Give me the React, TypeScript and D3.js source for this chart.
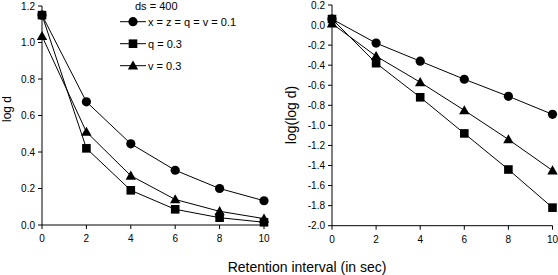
import React from "react";
import * as d3 from "d3";

const times = [0, 2, 4, 6, 8, 10];
const xTicks = [0, 2, 4, 6, 8, 10];

const leftCircle = [1.15, 0.675, 0.445, 0.3, 0.2, 0.133];
const leftSquare = [1.15, 0.42, 0.19, 0.086, 0.04, 0.015];
const leftTriangle = [1.035, 0.51, 0.27, 0.14, 0.075, 0.035];
const leftYTicks = [0, 0.2, 0.4, 0.6, 0.8, 1.0, 1.2];

const rightCircle = [0.06, -0.18, -0.36, -0.54, -0.71, -0.89];
const rightSquare = [0.06, -0.38, -0.72, -1.08, -1.44, -1.82];
const rightTriangle = [0.015, -0.31, -0.57, -0.85, -1.14, -1.45];
const rightYTicks = [0.2, 0, -0.2, -0.4, -0.6, -0.8, -1.0, -1.2, -1.4, -1.6, -1.8, -2.0];

const legendTitle = "ds = 400";
const legendLabels = ["x = z = q = v = 0.1", "q = 0.3", "v = 0.3"];
const markerTypes = ["circle", "square", "triangle"];

const FONT = "Arial, 'Liberation Sans', Helvetica, sans-serif";

function Marker({ type, x, y }: { type: string; x: number; y: number }) {
  if (type === "circle") return <circle cx={x} cy={y} r={4.6} fill="#000" />;
  if (type === "square") return <rect x={x - 4.3} y={y - 4.3} width={8.6} height={8.6} fill="#000" />;
  const s = 5.2;
  return <path d={`M${x},${y - s}L${x + s},${y + s * 0.75}L${x - s},${y + s * 0.75}Z`} fill="#000" />;
}

function Panel({
  x0, x1, y0, y1, domain, yTicks, series, fmt,
}: {
  x0: number; x1: number; y0: number; y1: number; domain: [number, number]; yTicks: number[];
  series: number[][]; fmt: (v: number) => string;
}) {
  const x = d3.scaleLinear().domain([0, 10]).range([x0, x1]);
  const y = d3.scaleLinear().domain(domain).range([y1, y0]);
  const line = d3.line<number>().x((_, i) => x(times[i])).y((v) => y(v));
  return (
    <g>
      <line x1={x0} x2={x0} y1={y(domain[1])} y2={y(domain[0])} stroke="#000" strokeWidth={1} />
      <line x1={x0} x2={x1} y1={y(domain[0])} y2={y(domain[0])} stroke="#000" strokeWidth={1} />
      {yTicks.map((t) => (
        <g key={t}>
          <line x1={x0 - 4} x2={x0} y1={y(t)} y2={y(t)} stroke="#000" />
          <text x={x0 - 7} y={y(t)} dy="0.35em" textAnchor="end" fontSize={10} fontFamily={FONT} fill="#000">
            {fmt(t)}
          </text>
        </g>
      ))}
      {xTicks.map((t) => (
        <g key={t}>
          <line x1={x(t)} x2={x(t)} y1={y(domain[0])} y2={y(domain[0]) + 4} stroke="#000" />
          <text x={x(t)} y={y(domain[0]) + 17} textAnchor="middle" fontSize={10} fontFamily={FONT} fill="#000">
            {t}
          </text>
        </g>
      ))}
      {series.map((s, si) => (
        <g key={si}>
          <path d={line(s) || ""} fill="none" stroke="#000" strokeWidth={1} />
          {s.map((v, i) => (
            <Marker key={i} type={markerTypes[si]} x={x(times[i])} y={y(v)} />
          ))}
        </g>
      ))}
    </g>
  );
}

export default function App() {
  const fmt = (v: number) => (Math.abs(v) < 1e-9 ? "0.0" : v.toFixed(1));
  return (
    <svg width={558} height={275} style={{ position: "absolute", left: 0, top: 0, background: "#fff" }}>
      <rect width={558} height={275} fill="#fff" />
      <Panel x0={42} x1={264} y0={6} y1={225} domain={[0, 1.2]} yTicks={leftYTicks}
        series={[leftCircle, leftSquare, leftTriangle]} fmt={fmt} />
      <Panel x0={332} x1={552.5} y0={5} y1={225.7} domain={[-2.0, 0.2]} yTicks={rightYTicks}
        series={[rightCircle, rightSquare, rightTriangle]} fmt={fmt} />
      <text transform="translate(11,109) rotate(-90)" textAnchor="middle" fontSize={12} fontFamily={FONT}>log d</text>
      <text transform="translate(296,115) rotate(-90)" textAnchor="middle" fontSize={14} fontFamily={FONT}>log(log d)</text>
      <text x={307} y={271.5} textAnchor="middle" fontSize={14} fontFamily={FONT}>Retention interval (in sec)</text>
      <text x={135} y={10} fontSize={11} fontFamily={FONT}>{legendTitle}</text>
      {legendLabels.map((l, i) => {
        const yy = 21.7 + i * 22;
        return (
          <g key={l}>
            <line x1={120} x2={146} y1={yy} y2={yy} stroke="#000" />
            <Marker type={markerTypes[i]} x={133} y={yy} />
            <text x={148} y={yy} dy="0.35em" fontSize={11} fontFamily={FONT}>{l}</text>
          </g>
        );
      })}
    </svg>
  );
}
